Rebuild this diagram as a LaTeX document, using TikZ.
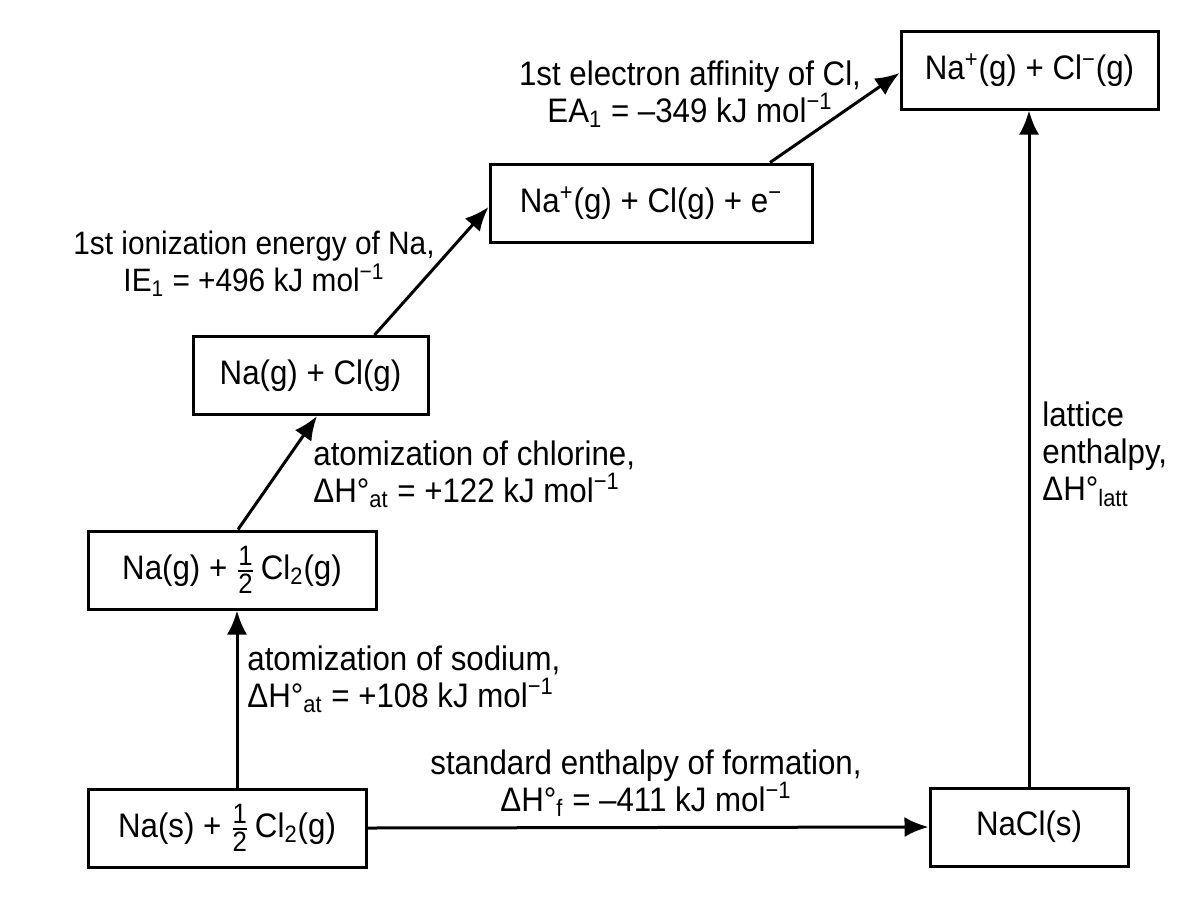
\documentclass[tikz,border=0pt]{standalone}
\usepackage{fontspec}
\usepackage{amsmath}
\setmainfont[FakeStretch=0.92]{Liberation Sans}
\usetikzlibrary{arrows.meta}
\newcommand{\fracdigit}[1]{\hbox{\fontsize{14}{14}\selectfont #1}}
\newcommand{\half}{$\genfrac{}{}{1pt}{1}{\fracdigit{1}}{\fracdigit{2}}$}
\newcommand{\chsub}[1]{\textsubscript{#1}}
\newcommand{\chsup}[1]{\textsuperscript{#1}}
\begin{document}
\begin{tikzpicture}[x=0.5pt,y=-0.5pt,
  box/.style={draw,line width=1.5pt,minimum height=39pt,inner sep=0pt},
  lbl/.style={inner sep=0pt},
  arr/.style={line width=1.5pt,-{Latex[length=12pt,width=10pt]}},
  font=\fontsize{17}{18.6}\selectfont]
\useasboundingbox (0,0) rectangle (1200,896);
\node[box,minimum width=139pt] (nas) at (227,828) {Na(s) + \half\,Cl\chsub{2}(g)};
\node[box,minimum width=144pt] (nahcl) at (232,570) {Na(g) + \half\,Cl\chsub{2}(g)};
\node[box,minimum width=117.5pt] (nacl) at (310.5,375.5) {Na(g) + Cl(g)};
\node[box,minimum width=161pt] (ions) at (651,203) {Na\chsup{+}(g) + Cl(g) + e\chsup{−}};
\node[box,minimum width=128.5pt] (pair) at (1029.5,70) {Na\chsup{+}(g) + Cl\chsup{−}(g)};
\node[box,minimum width=99pt] (salt) at (1029,827) {NaCl(s)};
\draw[arr] ([xshift=5pt]nas.north) -- ([xshift=2.5pt]nahcl.south);
\draw[arr] ([xshift=3pt]nahcl.north) -- ([xshift=3.25pt]nacl.south);
\draw[arr] ([xshift=32pt]nacl.north) -- ([yshift=-2pt]ions.west);
\draw[arr] ([xshift=59.5pt]ions.north) -- ([yshift=-1.5pt]pair.west);
\draw[arr] (salt.north) -- (salt.north |- pair.south);
\draw[arr] (nas.east) -- (salt.west);
\node[lbl,anchor=west,align=left] (atna) at (247,679) {atomization of sodium,\\ΔH°\chsub{at} = +108 kJ mol\chsup{−1}};
\node[lbl,anchor=west,align=left] (atcl) at (313,474) {atomization of chlorine,\\ΔH°\chsub{at} = +122 kJ mol\chsup{−1}};
\node[lbl,align=center,font=\fontsize{16.2}{18.6}\selectfont] (ie) at (254,264) {1st ionization energy of Na,\\IE\chsub{1} = +496 kJ mol\chsup{−1}};
\node[lbl,align=center] (ea) at (690,94) {1st electron affinity of Cl,\\EA\chsub{1} = –349 kJ mol\chsup{−1}};
\node[lbl,align=center] (form) at (646,783) {standard enthalpy of formation,\\ΔH°\chsub{f} = –411 kJ mol\chsup{−1}};
\node[lbl,anchor=west,align=left] (latt) at (1042,454) {lattice\\enthalpy,\\ΔH°\chsub{latt}};
\end{tikzpicture}
\end{document}
